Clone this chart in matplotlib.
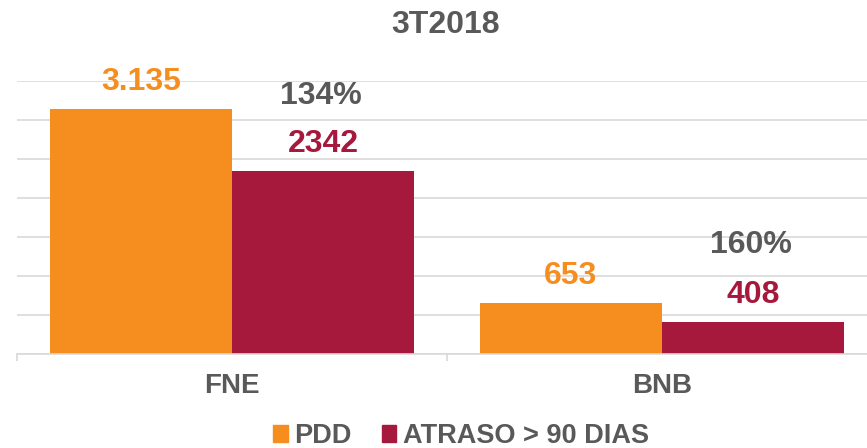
import matplotlib.pyplot as plt
from matplotlib.patches import Patch

plt.rcParams['font.family'] = ['Liberation Sans', 'DejaVu Sans']
plt.rcParams['font.weight'] = 'bold'

categorias = ['FNE', 'BNB']
pdd = [3135, 653]
atraso = [2342, 408]
rotulos_pdd = ['3.135', '653']
rotulos_atraso = ['2342', '408']
percentuais = ['134%', '160%']
altura_percentual = [3197, 1297]

laranja = '#F68D1F'
vinho = '#A6193C'
cinza = '#595959'

fig = plt.figure(figsize=(8.67, 4.48), dpi=100)
ax = fig.add_axes([17 / 867, 94 / 448, 860 / 867, 273.3 / 448])

x = range(len(categorias))
w = 0.424
xs_pdd = [i - w / 2 for i in x]
xs_atr = [i + w / 2 for i in x]
ax.bar(xs_pdd, pdd, width=w, color=laranja, zorder=2)
ax.bar(xs_atr, atraso, width=w, color=vinho, zorder=2)

for xi, v, r in zip(xs_pdd, pdd, rotulos_pdd):
    ax.annotate(r, (xi, v), xytext=(0, 13.5), textcoords='offset points',
                ha='center', va='baseline', color=laranja, fontsize=23,
                fontweight='bold', annotation_clip=False)
for xi, v, r in zip(xs_atr, atraso, rotulos_atraso):
    ax.annotate(r, (xi, v), xytext=(0, 13.5), textcoords='offset points',
                ha='center', va='baseline', color=vinho, fontsize=23,
                fontweight='bold', annotation_clip=False)
for xi, h, p in zip(xs_atr, altura_percentual, percentuais):
    ax.text(xi - 0.005, h, p, ha='center', va='baseline', color=cinza,
            fontsize=23, fontweight='bold', clip_on=False)

ax.set_xlim(-0.5, 1.5)
ax.set_ylim(0, 3500)
ax.set_yticks(range(0, 3501, 500))
ax.set_yticklabels([])
ax.tick_params(axis='y', length=0)
ax.grid(axis='y', color='#D9D9D9', linewidth=1.2, zorder=0)

ax.set_xticks(list(x))
ax.set_xticklabels(categorias, fontsize=20, fontweight='bold', color=cinza)
ax.tick_params(axis='x', which='major', length=0, pad=13.5)
ax.set_xticks([-0.5, 0.5, 1.5], minor=True)
ax.tick_params(axis='x', which='minor', length=5, color='#D9D9D9', width=1.2)

for s in ['left', 'right', 'top']:
    ax.spines[s].set_visible(False)
ax.spines['bottom'].set_color('#D9D9D9')
ax.spines['bottom'].set_linewidth(1.2)

fig.text(445.5 / 867, 1 - 32.7 / 448, '3T2018', ha='center', va='baseline',
         fontsize=23, fontweight='bold', color=cinza)

handles = [Patch(color=laranja), Patch(color=vinho)]
fig.legend(handles, ['PDD', 'ATRASO > 90 DIAS'], loc='center',
           bbox_to_anchor=(461 / 867, 1 - 436 / 448), ncol=2, frameon=False,
           prop={'weight': 'bold', 'size': 19.5},
           labelcolor=cinza, handlelength=0.55, handleheight=0.55,
           handletextpad=0.25, columnspacing=1.1, borderpad=0)

fig.savefig('out.png', dpi=100)
